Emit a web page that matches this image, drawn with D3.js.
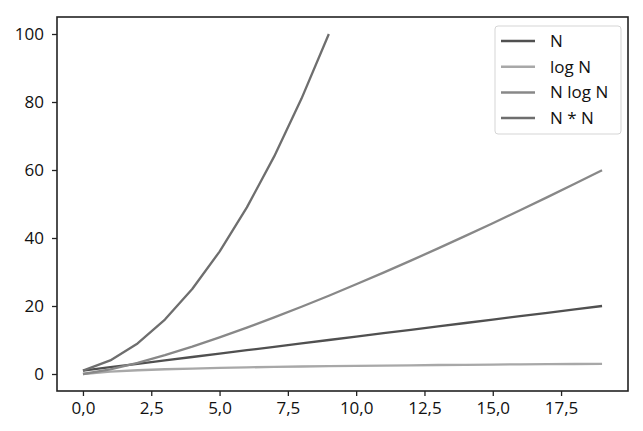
<!DOCTYPE html>
<html>
<head>
<meta charset="utf-8">
<script src="https://d3js.org/d3.v7.min.js"></script>
<style>
  body { margin: 0; background: #fff; }
  text { font-family: "Open Sans", sans-serif; fill: #111; }
</style>
</head>
<body>
<div class="chart"></div>
<script>
// data
const xsLong = [0,1,2,3,4,5,6,7,8,9,10,11,12,13,14,15,16,17,18,19];
const xsShort = [0,1,2,3,4,5,6,7,8,9];
const nVals = [1,2,3,4,5,6,7,8,9,10,11,12,13,14,15,16,17,18,19,20];
const logNVals = [0,0.69,1.1,1.39,1.61,1.79,1.95,2.08,2.2,2.3,2.4,2.48,2.56,2.64,2.71,2.77,2.83,2.89,2.94,3.0];
const nLogNVals = [0,1.39,3.3,5.55,8.05,10.75,13.62,16.64,19.78,23.03,26.38,29.82,33.34,36.95,40.62,44.36,48.16,52.03,55.94,59.91];
const nSqVals = [1,4,9,16,25,36,49,64,81,100];
const xTicks = [0,2.5,5,7.5,10,12.5,15,17.5];
const yTicks = [0,20,40,60,80,100];

const series = [
  { name: "N", xs: xsLong, ys: nVals, color: "#505050" },
  { name: "log N", xs: xsLong, ys: logNVals, color: "#a8a8a8" },
  { name: "N log N", xs: xsLong, ys: nLogNVals, color: "#888888" },
  { name: "N * N", xs: xsShort, ys: nSqVals, color: "#6e6e6e" }
];

const width = 643, height = 431;
const margin = { left: 57, top: 17, right: 15, bottom: 40 };

const svg = d3.select(".chart").append("svg")
    .attr("width", width)
    .attr("height", height);

const x = d3.scaleLinear().domain([-0.95, 19.95]).range([margin.left, width - margin.right]);
const y = d3.scaleLinear().domain([-5, 105]).range([height - margin.bottom, margin.top]);

const fmt = d => d3.format(".1f")(d).replace(".", ",");

// lines (straight segments between points)
const line = d3.line().x(d => x(d[0])).y(d => y(d[1]));
svg.append("g")
    .selectAll("path")
    .data(series)
    .enter().append("path")
    .attr("fill", "none")
    .attr("stroke", d => d.color)
    .attr("stroke-width", 2.3)
    .attr("stroke-linejoin", "round")
    .attr("d", d => line(d.xs.map((v, i) => [v, d.ys[i]])));

// axes
const xAxis = svg.append("g")
    .attr("transform", "translate(0," + (height - margin.bottom) + ")")
    .call(d3.axisBottom(x).tickValues(xTicks).tickFormat(fmt).tickSize(5).tickPadding(6));
const yAxis = svg.append("g")
    .attr("transform", "translate(" + margin.left + ",0)")
    .call(d3.axisLeft(y).tickValues(yTicks).tickFormat(d3.format("d")).tickSize(5).tickPadding(8));

[xAxis, yAxis].forEach(a => {
    a.select(".domain").remove();
    a.selectAll("line").attr("stroke", "#222").attr("stroke-width", 1.3);
    a.selectAll("text").style("font-size", "17px").attr("fill", "#111");
});

// frame
svg.append("rect")
    .attr("x", margin.left)
    .attr("y", margin.top)
    .attr("width", width - margin.left - margin.right)
    .attr("height", height - margin.top - margin.bottom)
    .attr("fill", "none")
    .attr("stroke", "#222")
    .attr("stroke-width", 1.6);

// legend
const legend = svg.append("g").attr("transform", "translate(495,26)");
legend.append("rect")
    .attr("width", 126)
    .attr("height", 108)
    .attr("rx", 3)
    .attr("fill", "#fff")
    .attr("stroke", "#d5d5d5");
const item = legend.selectAll(".item")
    .data(series)
    .enter().append("g")
    .attr("transform", (d, i) => "translate(0," + (15 + i * 25.7) + ")");
item.append("line")
    .attr("x1", 6).attr("x2", 40)
    .attr("stroke", d => d.color)
    .attr("stroke-width", 2.5);
item.append("text")
    .attr("x", 55)
    .attr("dy", "0.35em")
    .style("font-size", "17px")
    .text(d => d.name);
</script>
</body>
</html>
